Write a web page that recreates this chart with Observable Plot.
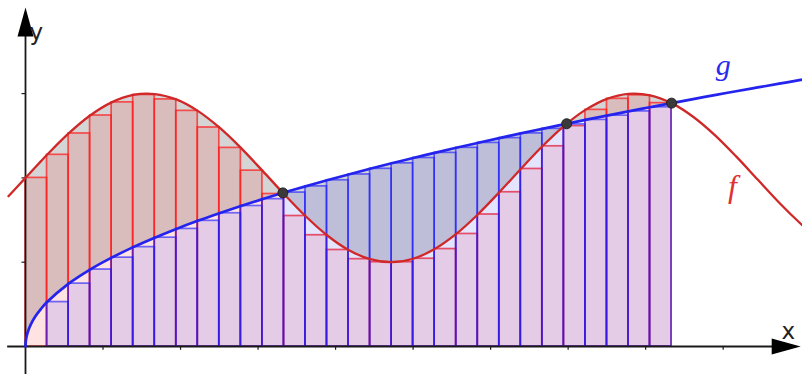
<!DOCTYPE html>
<html>
<head>
<meta charset="utf-8">
<script src="https://cdn.jsdelivr.net/npm/d3@7"></script>
<script src="https://cdn.jsdelivr.net/npm/@observablehq/plot@0.6"></script>
<style>
  html, body { margin: 0; padding: 0; background: #fff; }
  #chart svg { display: block; }
</style>
</head>
<body>
<div id="chart"></div>
<script>
// Lower Riemann sums of f(x) = 2 + sin x (red) and g(x) = sqrt x (blue)
// on [0, b], 30 strips, where b is the third crossing of the two curves.

// Strip edges on [0, b]
const edgeX = [0, 0.278, 0.556, 0.833, 1.111, 1.389, 1.667, 1.945, 2.222, 2.500,
  2.778, 3.056, 3.334, 3.611, 3.889, 4.167, 4.445, 4.723, 5.000, 5.278,
  5.556, 5.834, 6.112, 6.389, 6.667, 6.945, 7.223, 7.501, 7.778, 8.056, 8.334];
// f at the strip edges
const fEdge = [2.000, 2.274, 2.527, 2.740, 2.896, 2.984, 2.995, 2.931, 2.795, 2.598,
  2.356, 2.086, 1.809, 1.548, 1.320, 1.145, 1.036, 1.000, 1.041, 1.156,
  1.335, 1.566, 1.830, 2.106, 2.375, 2.615, 2.807, 2.938, 2.997, 2.980, 2.887];
// g at the strip edges
const gEdge = [0.000, 0.527, 0.746, 0.913, 1.054, 1.179, 1.291, 1.395, 1.491, 1.581,
  1.667, 1.748, 1.826, 1.900, 1.972, 2.041, 2.108, 2.173, 2.236, 2.297,
  2.357, 2.415, 2.472, 2.528, 2.582, 2.635, 2.688, 2.739, 2.789, 2.838, 2.887];

// Lower-sum strip heights: smallest value of f / g on each strip
const fLower = [2.000, 2.274, 2.527, 2.740, 2.896, 2.984, 2.931, 2.795, 2.598, 2.356,
  2.086, 1.809, 1.548, 1.320, 1.145, 1.036, 1.000, 1.000, 1.041, 1.156,
  1.335, 1.566, 1.830, 2.106, 2.375, 2.615, 2.807, 2.938, 2.980, 2.887];
const gLower = [0.000, 0.527, 0.746, 0.913, 1.054, 1.179, 1.291, 1.395, 1.491, 1.581,
  1.667, 1.748, 1.826, 1.900, 1.972, 2.041, 2.108, 2.173, 2.236, 2.297,
  2.357, 2.415, 2.472, 2.528, 2.582, 2.635, 2.688, 2.739, 2.789, 2.838];

// Extra samples inside the first strip, where g climbs steeply
const headX = [0.004, 0.015, 0.035, 0.070, 0.130, 0.200];
const headF = [2.004, 2.015, 2.035, 2.070, 2.130, 2.199];
const headG = [0.063, 0.122, 0.187, 0.265, 0.361, 0.447];

// Curve samples past b, out to the right edge
const tailX = [8.612, 8.889, 9.167, 9.445, 9.723, 10.000, 10.050];
const tailF = [2.726, 2.511, 2.255, 1.980, 1.706, 1.456, 1.415];
const tailG = [2.935, 2.982, 3.028, 3.073, 3.118, 3.162, 3.170];

// f sample left of the y-axis
const leftX = [-0.22];
const leftF = [1.782];

// Crossings of f and g
const crossX = [3.320, 6.981, 8.334];
const crossY = [1.822, 2.642, 2.887];

// Axis ticks
const xTicks = [1, 2, 3, 4, 5, 6, 7, 8, 9];
const yTicks = [1, 2, 3];

// Tables built from the arrays above
const main = [
  {x: edgeX[0], f: fEdge[0], g: gEdge[0]},
  ...headX.map((x, i) => ({x, f: headF[i], g: headG[i]})),
  ...edgeX.slice(1).map((x, i) => ({x, f: fEdge[i + 1], g: gEdge[i + 1]}))
];
const tail = tailX.map((x, i) => ({x, f: tailF[i], g: tailG[i]}));
const fRows = [...leftX.map((x, i) => ({x, f: leftF[i]})), ...main, ...tail];
const gRows = [...main, ...tail];
const strips = fLower.map((f, i) => ({x1: edgeX[i], x2: edgeX[i + 1], f, g: gLower[i]}));
const crossings = crossX.map((x, i) => ({x, y: crossY[i]}));

// Filled arrowhead, tip at the anchor, pointing up before rotation
const arrowHead = {
  draw(ctx) {
    const L = 29, w = 16;
    ctx.moveTo(0, 0);
    ctx.lineTo(-w / 2, L);
    ctx.lineTo(w / 2, L);
    ctx.closePath();
  }
};

const axisColor = "#1a1a1a";

const chart = Plot.plot({
  width: 802,
  height: 374,
  margin: 0,
  x: {domain: [-25 / 77.52, 777 / 77.52], axis: null},
  y: {domain: [-28 / 84.3, 346 / 84.3], axis: null},
  marks: [
    // area between the curves
    Plot.areaY(main, {x: "x", y1: "g", y2: "f", curve: "catmull-rom", fill: "#000", fillOpacity: 0.165}),
    // lower-sum strips of f
    Plot.rectY(strips, {x1: "x1", x2: "x2", y1: 0, y2: "f", fill: "#ff0000", fillOpacity: 0.11,
      stroke: "#ff1a1a", strokeOpacity: 0.72, strokeWidth: 1.7}),
    // lower-sum strips of g
    Plot.rectY(strips, {x1: "x1", x2: "x2", y1: 0, y2: "g", fill: "#0000ff", fillOpacity: 0.105,
      stroke: "#1a1aff", strokeOpacity: 0.62, strokeWidth: 1.7}),
    // axes
    Plot.ruleY([0], {x1: -0.23, x2: 9.7, stroke: axisColor, strokeWidth: 1.8}),
    Plot.ruleX([0], {y1: -0.34, y2: 3.8, stroke: axisColor, strokeWidth: 1.8}),
    Plot.ruleX(xTicks, {y1: 0, y2: -0.045, stroke: axisColor, strokeWidth: 1.2}),
    Plot.ruleY(yTicks, {x1: 0, x2: -0.045, stroke: axisColor, strokeWidth: 1.2}),
    Plot.dot([{x: 10.0, y: 0}], {x: "x", y: "y", symbol: arrowHead, rotate: 90, fill: "#000", stroke: "none"}),
    Plot.dot([{x: 0, y: 4.02}], {x: "x", y: "y", symbol: arrowHead, rotate: 0, fill: "#000", stroke: "none"}),
    // the curves
    Plot.line(fRows, {x: "x", y: "f", curve: "catmull-rom", stroke: "#d02828", strokeWidth: 2.3, strokeLinecap: "round"}),
    Plot.line(gRows, {x: "x", y: "g", curve: "catmull-rom", stroke: "#2424ee", strokeWidth: 2.7, strokeLinecap: "round"}),
    // crossing points
    Plot.dot(crossings, {x: "x", y: "y", r: 5, fill: "#3a3a3a", stroke: "#222", strokeWidth: 1}),
    // labels
    Plot.text(["x"], {x: 9.84, y: 0.085, text: d => d, fontSize: 23, fill: "#222", fontFamily: "DejaVu Sans",
      textAnchor: "middle", lineAnchor: "bottom"}),
    Plot.text(["y"], {x: 0.14, y: 3.64, text: d => d, fontSize: 23, fill: "#222", fontFamily: "DejaVu Sans",
      textAnchor: "middle", lineAnchor: "bottom"}),
    Plot.text(["g"], {x: 9.0, y: 3.225, text: d => d, fontSize: 30, fill: "#2a2aee", fontFamily: "Liberation Serif",
      fontStyle: "italic", textAnchor: "middle", lineAnchor: "bottom"}),
    Plot.text(["f"], {x: 9.12, y: 1.77, text: d => d, fontSize: 32, fill: "#e03030", fontFamily: "Liberation Serif",
      fontStyle: "italic", textAnchor: "middle", lineAnchor: "bottom"})
  ]
});

document.getElementById("chart").append(chart);
</script>
</body>
</html>
